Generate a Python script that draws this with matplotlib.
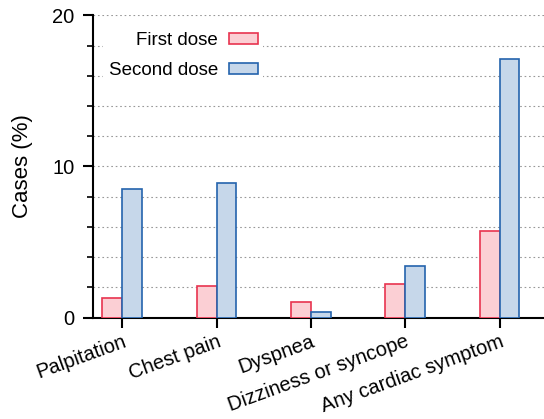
import numpy as np
import matplotlib
matplotlib.use("Agg")
import matplotlib.pyplot as plt
from matplotlib.ticker import MultipleLocator

plt.rcParams['font.family'] = ['Liberation Sans', 'DejaVu Sans']

symptoms = ["Palpitation", "Chest pain", "Dyspnea", "Dizziness or syncope", "Any cardiac symptom"]
first_dose = [1.3, 2.1, 1.0, 2.2, 5.7]
second_dose = [8.5, 8.9, 0.4, 3.4, 17.1]

x = np.arange(len(symptoms))
w = 0.21

fig = plt.figure(figsize=(5.44, 4.19), dpi=100)
ax = fig.add_axes([0.171, 0.242, 0.829, 0.7215])

ax.bar(x - w / 2, first_dose, w, color="#fbcfd4", edgecolor="#e8334f",
       linewidth=1.2, label="First dose", zorder=3)
ax.bar(x + w / 2, second_dose, w, color="#c6d7ea", edgecolor="#2463ad",
       linewidth=1.2, label="Second dose", zorder=3)

ax.set_xlim(-0.31, 4.47)
ax.set_ylim(0, 20)
ax.yaxis.set_major_locator(MultipleLocator(10))
ax.yaxis.set_minor_locator(MultipleLocator(2))
ax.grid(axis="y", which="both", color="#999999", linestyle=(0, (1.5, 2.5)),
        linewidth=0.8, zorder=0)

for s in ["top", "right"]:
    ax.spines[s].set_visible(False)
ax.spines["left"].set_linewidth(1.5)
ax.spines["bottom"].set_linewidth(1.5)

ax.tick_params(axis="y", which="major", length=7, width=1.5, labelsize=14.5, pad=6.5)
ax.tick_params(axis="y", which="minor", length=4, width=1.2)
ax.tick_params(axis="x", length=7, width=1.5, labelsize=14.5)
ax.set_xticks(x)
ax.set_xticklabels(symptoms, rotation=20, ha="right", rotation_mode="anchor")
ax.set_ylabel("Cases (%)", fontsize=16, labelpad=14)

leg = ax.legend(loc="upper left", bbox_to_anchor=(0.002, 0.995), markerfirst=False,
                frameon=True, fontsize=13.5, handlelength=1.5, handleheight=0.53,
                labelspacing=0.72, borderpad=0.3, handletextpad=0.6)
leg.get_frame().set_edgecolor("none")
leg.get_frame().set_facecolor("white")
leg.get_frame().set_alpha(1)
for t in leg.get_texts():
    t.set_ha("right")

fig.savefig("out.png", dpi=100)
